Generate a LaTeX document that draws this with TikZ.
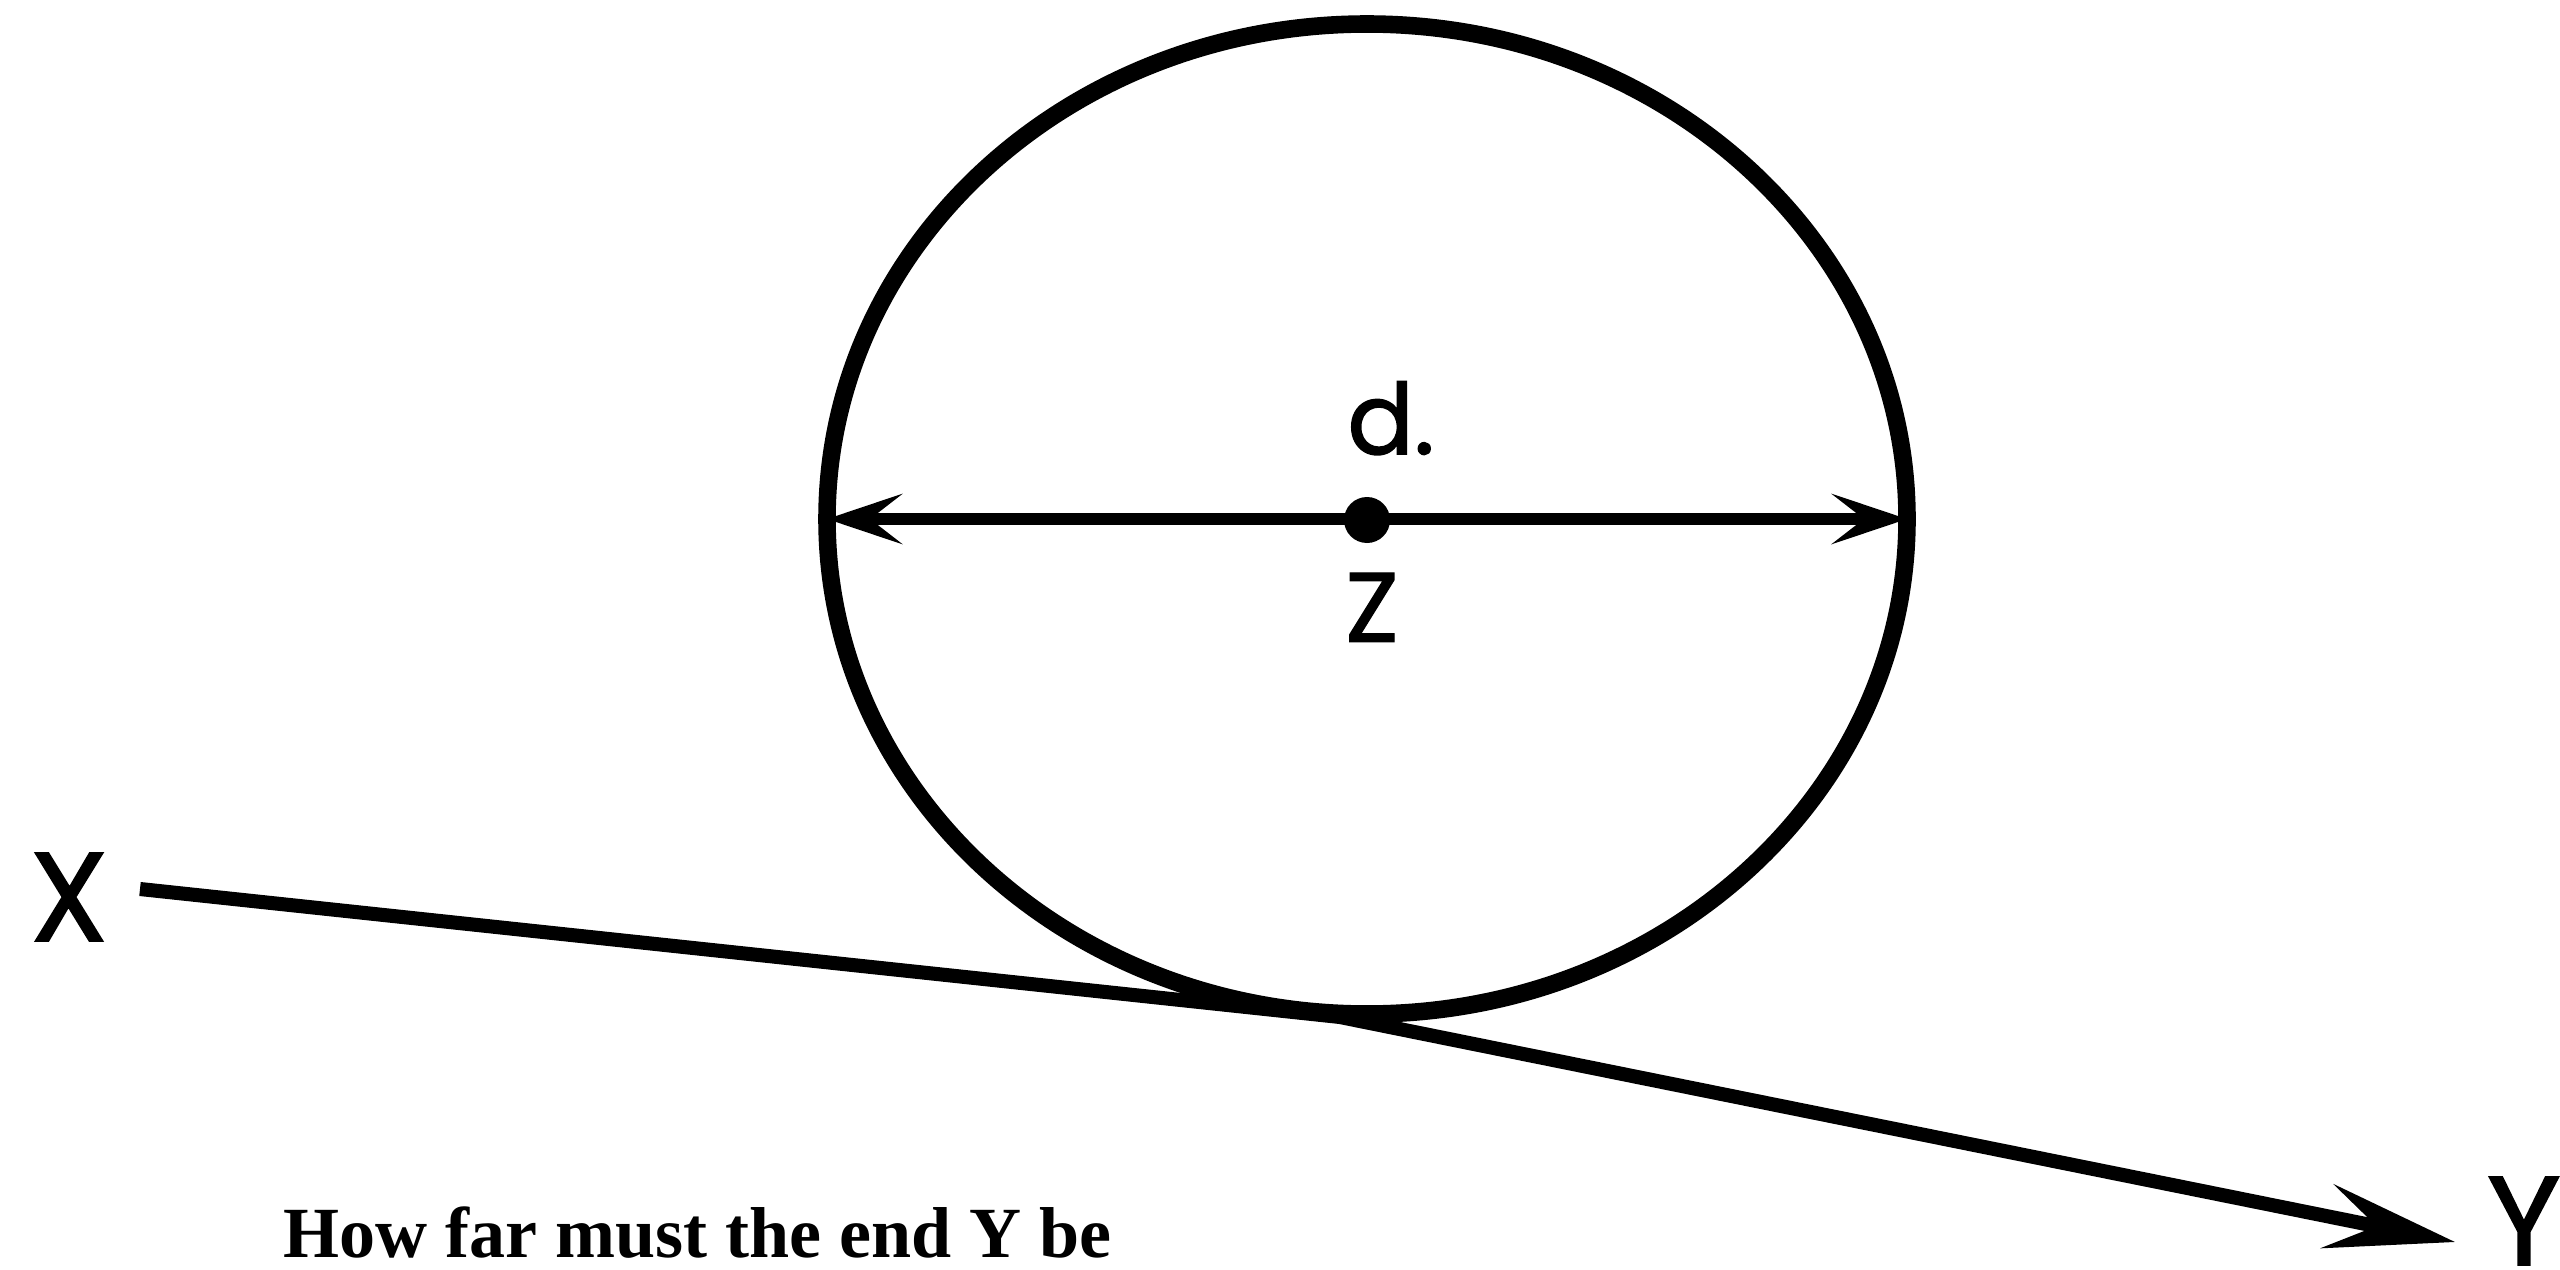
\documentclass[tikz,border=0pt]{standalone}
\usepackage{fontspec}
\setmainfont{Liberation Serif}
\newfontfamily\lblfont[FakeBold=1.4]{Poppins}
\usetikzlibrary{positioning}
\usetikzlibrary{arrows.meta}
\usetikzlibrary{shapes.geometric}

\begin{document}
\begin{tikzpicture}[every node/.style={inner sep=0pt, outer sep=0pt},
    lbl/.style={font=\lblfont\fontsize{36}{40}\selectfont},
    small lbl/.style={font=\lblfont\fontsize{28}{32}\selectfont},
    diam/.style={line width=3.6pt, {Stealth[length=7.5mm, width=5mm, inset=3.2mm]}-{Stealth[length=7.5mm, width=5mm, inset=3.2mm]}},
    rope/.style={line width=4pt, -{Stealth[length=13mm, width=6.5mm, inset=5mm]}}]
    \useasboundingbox (0,0) rectangle (25.6,12.69);

    \node (ball) [draw, ellipse, line width=5pt, minimum width=10.8cm, minimum height=9.9cm] at (13.67,7.50) {};
    \node (dot) [circle, fill, minimum size=4.6mm] at (13.67,7.49) {};
    \node (dlbl) [small lbl, above=0.42cm of dot, xshift=0.24cm] {d.};
    \node (zlbl) [small lbl, below=0.3cm of dot, xshift=0.05cm] {Z};
    \draw[diam] (ball.west) -- (ball.east);

    \node (x) [lbl] at (0.69,3.72) {X};
    \node (y) [lbl, anchor=west] at (24.87,0.48) {Y};
    \coordinate (start) at (1.40,3.80);
    \coordinate (touch) at (13.40,2.52);
    \coordinate (tip) at (24.55,0.27);
    \draw[rope] (start) -- (touch) -- (tip);

    \node (q) [anchor=base west, font=\bfseries\fontsize{20.5}{24}\selectfont] at (2.83,0.12) {How far must the end Y be};
\end{tikzpicture}
\end{document}
